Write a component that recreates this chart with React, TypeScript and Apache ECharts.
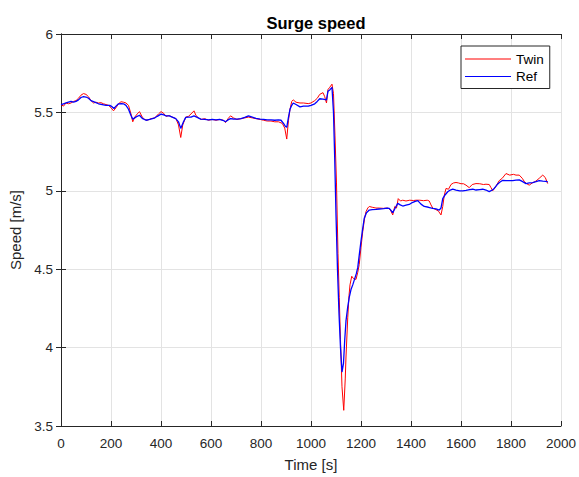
import React, { useEffect, useRef } from "react";
import * as echarts from "echarts";

const twinTime = [
  0, 10, 20, 30, 40, 50, 60, 70, 80, 90, 100, 110, 120, 130, 140, 150, 160, 170, 180, 190,
  200, 210, 220, 230, 240, 250, 260, 270, 280, 287, 295, 305, 314, 325, 335, 345, 360, 375, 390, 400,
  410, 420, 433, 445, 460, 470, 479, 487, 499, 510, 520, 532, 540, 550, 560, 575, 590, 605, 620, 635,
  650, 658, 668, 678, 690, 704, 720, 735, 750, 765, 780, 797, 810, 825, 840, 855, 870, 885, 895, 903,
  910, 916, 923, 929, 940, 956, 970, 989, 1000, 1015, 1025, 1035, 1048, 1055, 1062, 1068, 1075, 1084, 1090, 1096,
  1102, 1108, 1113, 1118, 1124, 1131, 1137, 1140, 1147, 1152, 1156, 1163, 1170, 1180, 1187, 1193, 1200, 1207, 1214, 1220,
  1227, 1233, 1245, 1260, 1273, 1290, 1305, 1313, 1320, 1327, 1335, 1342, 1349, 1358, 1367, 1380, 1395, 1410, 1420, 1435,
  1450, 1465, 1473, 1480, 1487, 1500, 1510, 1520, 1527, 1533, 1540, 1550, 1560, 1570, 1580, 1590, 1600, 1610, 1620, 1633,
  1645, 1660, 1675, 1690, 1700, 1713, 1720, 1727, 1740, 1753, 1765, 1780, 1795, 1810, 1820, 1833, 1845, 1853, 1863, 1873,
  1885, 1900, 1913, 1927, 1937, 1947,
];
const twinSpeed = [
  5.55, 5.54, 5.56, 5.555, 5.56, 5.57, 5.575, 5.59, 5.61, 5.62, 5.615, 5.6, 5.575, 5.56, 5.565, 5.56, 5.562, 5.555, 5.55, 5.545,
  5.53, 5.51, 5.53, 5.555, 5.568, 5.565, 5.56, 5.545, 5.49, 5.44, 5.47, 5.49, 5.505, 5.47, 5.455, 5.45, 5.46, 5.465, 5.49, 5.505,
  5.495, 5.475, 5.48, 5.47, 5.46, 5.42, 5.34, 5.42, 5.47, 5.475, 5.49, 5.51, 5.48, 5.465, 5.455, 5.46, 5.45, 5.455, 5.45, 5.455,
  5.45, 5.435, 5.46, 5.478, 5.465, 5.455, 5.46, 5.465, 5.47, 5.465, 5.46, 5.455, 5.45, 5.445, 5.445, 5.44, 5.44, 5.43, 5.4, 5.33,
  5.45, 5.52, 5.57, 5.58, 5.565, 5.56, 5.56, 5.556, 5.56, 5.575, 5.59, 5.615, 5.626, 5.6, 5.56, 5.646, 5.66, 5.68, 5.62, 5.35,
  5.05, 4.6, 4.32, 4.05, 3.75, 3.6, 3.8, 3.94, 4.19, 4.33, 4.4, 4.455, 4.44, 4.435, 4.48, 4.53, 4.64, 4.74, 4.82, 4.867,
  4.89, 4.9, 4.895, 4.89, 4.89, 4.888, 4.89, 4.886, 4.87, 4.846, 4.9, 4.89, 4.95, 4.935, 4.94, 4.935, 4.94, 4.938, 4.94, 4.94,
  4.937, 4.94, 4.935, 4.91, 4.89, 4.88, 4.87, 4.846, 4.9, 4.97, 5.015, 5.01, 5.04, 5.05, 5.053, 5.05, 5.045, 5.045, 5.036, 5.02,
  5.04, 5.046, 5.045, 5.04, 5.042, 5.04, 5.02, 5.0, 5.03, 5.065, 5.08, 5.11, 5.1, 5.105, 5.1, 5.1, 5.08, 5.06, 5.045, 5.036,
  5.05, 5.062, 5.08, 5.1, 5.085, 5.046,
];

const refTime = [
  0, 10, 20, 30, 40, 50, 60, 70, 80, 90, 100, 110, 120, 135, 150, 165, 180, 195, 205, 212,
  220, 230, 241, 250, 260, 270, 280, 287, 295, 305, 314, 325, 340, 355, 373, 385, 400, 410, 420, 433,
  445, 459, 470, 479, 490, 499, 510, 520, 532, 545, 559, 575, 590, 605, 620, 635, 650, 658, 668, 678,
  690, 704, 720, 735, 750, 765, 780, 797, 810, 825, 840, 855, 870, 880, 890, 898, 903, 910, 916, 923,
  929, 940, 956, 970, 989, 1000, 1015, 1025, 1035, 1048, 1062, 1068, 1076, 1084, 1090, 1095, 1100, 1106, 1112, 1118,
  1124, 1130, 1135, 1140, 1147, 1153, 1160, 1167, 1175, 1181, 1187, 1193, 1200, 1207, 1213, 1222, 1233, 1245, 1260, 1273,
  1290, 1305, 1313, 1320, 1327, 1337, 1347, 1357, 1367, 1380, 1393, 1405, 1417, 1427, 1440, 1453, 1470, 1487, 1500, 1513,
  1520, 1527, 1537, 1547, 1557, 1567, 1580, 1595, 1607, 1620, 1635, 1647, 1660, 1675, 1687, 1700, 1713, 1725, 1733, 1745,
  1755, 1767, 1780, 1795, 1807, 1820, 1833, 1845, 1860, 1873, 1887, 1900, 1913, 1927, 1940, 1947,
];
const refSpeed = [
  5.55, 5.555, 5.56, 5.565, 5.57, 5.565, 5.57, 5.58, 5.595, 5.6, 5.598, 5.59, 5.575, 5.566, 5.555, 5.55, 5.545, 5.545, 5.535, 5.525,
  5.54, 5.555, 5.556, 5.555, 5.545, 5.52, 5.48, 5.457, 5.465, 5.475, 5.482, 5.462, 5.45, 5.455, 5.463, 5.475, 5.489, 5.485, 5.478, 5.478,
  5.47, 5.46, 5.44, 5.398, 5.44, 5.468, 5.47, 5.47, 5.478, 5.468, 5.457, 5.455, 5.452, 5.455, 5.452, 5.455, 5.448, 5.44, 5.452, 5.46,
  5.458, 5.457, 5.46, 5.468, 5.478, 5.47, 5.462, 5.457, 5.455, 5.452, 5.452, 5.45, 5.452, 5.45, 5.43, 5.41, 5.405, 5.47, 5.52, 5.545,
  5.56, 5.55, 5.535, 5.54, 5.54, 5.545, 5.555, 5.57, 5.587, 5.585, 5.58, 5.635, 5.645, 5.66, 5.5, 5.2, 4.85, 4.5, 4.22, 4.0,
  3.844, 3.9, 4.05, 4.17, 4.26, 4.32, 4.37, 4.4, 4.44, 4.47, 4.51, 4.59, 4.68, 4.76, 4.825, 4.86, 4.877, 4.88, 4.882, 4.884,
  4.886, 4.89, 4.888, 4.875, 4.86, 4.89, 4.92, 4.91, 4.903, 4.908, 4.913, 4.925, 4.932, 4.937, 4.915, 4.9, 4.895, 4.888, 4.885, 4.877,
  4.89, 4.95, 4.975, 4.994, 5.005, 5.01, 5.005, 5.0, 5.0, 5.003, 5.008, 5.01, 5.005, 5.008, 5.01, 5.005, 4.995, 5.005, 5.015, 5.04,
  5.055, 5.067, 5.065, 5.065, 5.065, 5.068, 5.07, 5.06, 5.046, 5.05, 5.052, 5.058, 5.065, 5.062, 5.06, 5.057,
];

const seriesNames = ["Twin", "Ref"];
const xTicks = { min: 0, max: 2000, interval: 200 };
const yTicks = { min: 3.5, max: 6, interval: 0.5 };

const FONT = "'Liberation Sans', Arial, Helvetica, sans-serif";
const AXIS_COLOR = "#262626";

export default function App() {
  const ref = useRef<HTMLDivElement>(null);
  useEffect(() => {
    if (!ref.current) return;
    const chart = echarts.init(ref.current, undefined, { renderer: "svg" });
    const twinData = twinTime.map((t, i) => [t, twinSpeed[i]]);
    const refData = refTime.map((t, i) => [t, refSpeed[i]]);
    const baseAxisLine = { show: true, lineStyle: { color: AXIS_COLOR, width: 1 } };
    const tick = { show: true, inside: true, length: 5, lineStyle: { color: AXIS_COLOR } };
    const plain = (v: number) => String(v);
    chart.setOption({
      animation: false,
      backgroundColor: "#ffffff",
      title: {
        text: "Surge speed",
        left: 311,
        top: 9,
        textAlign: "center",
        textStyle: { fontFamily: FONT, fontSize: 16.5, fontWeight: "bold", color: "#000000" },
      },
      legend: {
        data: seriesNames,
        orient: "vertical",
        left: 461,
        top: 46,
        padding: [5, 6, 4, 4],
        icon: "rect",
        itemWidth: 46,
        itemHeight: 1.2,
        itemGap: 1.5,
        borderColor: AXIS_COLOR,
        borderWidth: 1,
        borderRadius: 0,
        backgroundColor: "#ffffff",
        textStyle: { fontFamily: FONT, fontSize: 13.5, color: "#000000", lineHeight: 16 },
      },
      grid: { left: 61, right: 17, top: 34, bottom: 47 },
      xAxis: [
        {
          type: "value",
          ...xTicks,
          name: "Time [s]",
          nameLocation: "middle",
          nameGap: 31,
          nameTextStyle: { fontFamily: FONT, fontSize: 15, color: AXIS_COLOR },
          axisLine: baseAxisLine,
          axisTick: tick,
          axisLabel: { fontFamily: FONT, fontSize: 13.5, color: AXIS_COLOR, margin: 10, formatter: plain },
          splitLine: { show: true, lineStyle: { color: "#e3e3e3", width: 1 } },
        },
        {
          type: "value",
          position: "top",
          ...xTicks,
          axisLine: baseAxisLine,
          axisTick: tick,
          axisLabel: { show: false },
          splitLine: { show: false },
        },
      ],
      yAxis: [
        {
          type: "value",
          ...yTicks,
          name: "Speed [m/s]",
          nameLocation: "middle",
          nameGap: 34,
          nameTextStyle: { fontFamily: FONT, fontSize: 15, color: AXIS_COLOR },
          axisLine: baseAxisLine,
          axisTick: tick,
          axisLabel: { fontFamily: FONT, fontSize: 13.5, color: AXIS_COLOR, margin: 8, formatter: plain },
          splitLine: { show: true, lineStyle: { color: "#e3e3e3", width: 1 } },
        },
        {
          type: "value",
          position: "right",
          ...yTicks,
          axisLine: baseAxisLine,
          axisTick: tick,
          axisLabel: { show: false },
          splitLine: { show: false },
        },
      ],
      series: [
        {
          name: seriesNames[0],
          type: "line",
          data: twinData,
          symbol: "none",
          showSymbol: false,
          lineStyle: { color: "#ff0000", width: 1 },
          itemStyle: { color: "#ff0000" },
        },
        {
          name: seriesNames[1],
          type: "line",
          data: refData,
          symbol: "none",
          showSymbol: false,
          lineStyle: { color: "#0000ff", width: 1.3 },
          itemStyle: { color: "#0000ff" },
        },
      ],
    });
    return () => chart.dispose();
  }, []);
  return <div ref={ref} style={{ width: 579, height: 477, position: "absolute", left: 0, top: 0 }} />;
}
